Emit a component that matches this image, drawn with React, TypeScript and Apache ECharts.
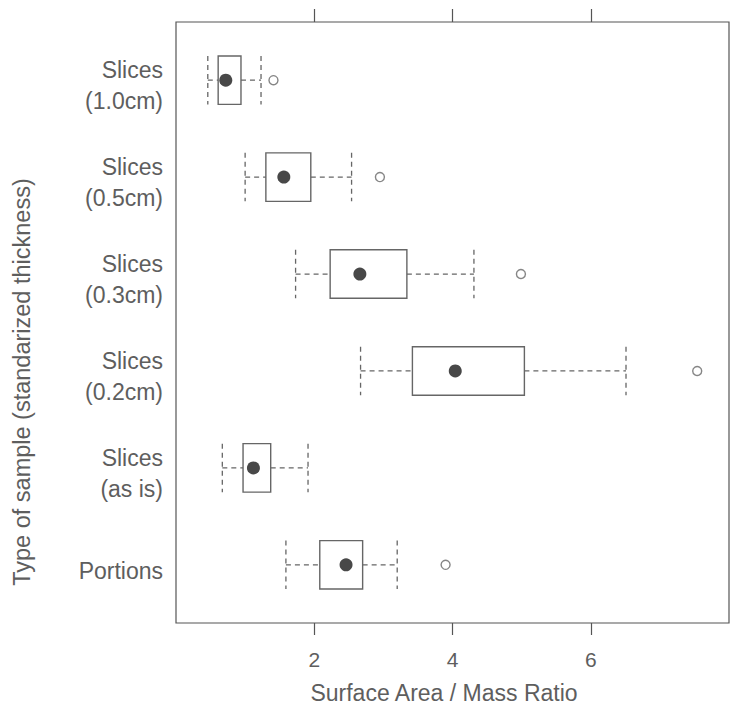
import React, { useEffect, useRef } from "react";
import * as echarts from "echarts";

const categories = ["Slices\n(1.0cm)", "Slices\n(0.5cm)", "Slices\n(0.3cm)", "Slices\n(0.2cm)", "Slices\n(as is)", "Portions"];
const lowWhisker = [0.46, 1.0, 1.73, 2.67, 0.67, 1.59];
const q1 = [0.61, 1.3, 2.23, 3.42, 0.97, 2.08];
const median = [0.72, 1.56, 2.66, 4.04, 1.12, 2.46];
const q3 = [0.94, 1.95, 3.34, 5.04, 1.37, 2.7];
const highWhisker = [1.23, 2.54, 4.31, 6.51, 1.91, 3.2];
const outlierGroup = [1, 2, 3, 4, 6];
const outlierValue = [1.41, 2.95, 4.99, 7.54, 3.9];
const xTicks = [2, 4, 6];
const xTitle = "Surface Area / Mass Ratio";
const yTitle = "Type of sample (standarized thickness)";

const FONT = "'Liberation Sans', Arial, Helvetica, sans-serif";
const TEXT = "#5e5e5e";
const LINE = "#666666";
const LABEL_SHIFT = 0.06;

export default function App() {
  const ref = useRef<HTMLDivElement>(null);
  useEffect(() => {
    if (!ref.current) return;
    const chart = echarts.init(ref.current, null, { renderer: "svg" });
    const boxData = categories.map((_, i) => [i + 1, lowWhisker[i], q1[i], median[i], q3[i], highWhisker[i]]);
    const outData = outlierGroup.map((g, i) => [outlierValue[i], g]);
    const option: any = {
      animation: false,
      backgroundColor: "#ffffff",
      grid: { left: 176, right: 1, top: 22, bottom: 87, show: true, borderColor: "#555", borderWidth: 1.2, backgroundColor: "transparent" },
      xAxis: [
        {
          type: "value", min: 0, max: 8, interval: 2, position: "bottom",
          axisLine: { show: false },
          splitLine: { show: false },
          axisTick: { show: true, length: 12, customValues: xTicks, lineStyle: { color: "#555", width: 1.2 } },
          axisLabel: { customValues: xTicks, fontSize: 21, color: TEXT, fontFamily: FONT, margin: 26 },
        },
        {
          type: "value", min: 0, max: 8, interval: 2, position: "top",
          axisLine: { show: false },
          splitLine: { show: false },
          axisTick: { show: true, length: 13, customValues: xTicks, lineStyle: { color: "#555", width: 1.2 } },
          axisLabel: { show: false },
        },
      ],
      yAxis: {
        type: "value", min: 0.4, max: 6.6, inverse: true,
        axisLine: { show: false }, splitLine: { show: false }, axisTick: { show: false },
        axisLabel: {
          customValues: categories.map((_, i) => i + 1 + LABEL_SHIFT),
          formatter: (v: number) => categories[Math.round(v) - 1] || "",
          fontSize: 23, lineHeight: 31, color: TEXT, fontFamily: FONT, align: "right", margin: 13,
        },
      },
      series: [
        {
          type: "custom",
          xAxisIndex: 0,
          data: boxData,
          encode: { x: [1, 2, 3, 4, 5], y: 0 },
          renderItem: (params: any, api: any) => {
            const g = api.value(0);
            const lo = api.coord([api.value(1), g]);
            const a = api.coord([api.value(2), g]);
            const m = api.coord([api.value(3), g]);
            const b = api.coord([api.value(4), g]);
            const hi = api.coord([api.value(5), g]);
            const h = api.size([0, 0.5])[1];
            const cy = m[1];
            const dashed = { stroke: "#666", lineWidth: 1.3, lineDash: [5, 4] };
            return {
              type: "group",
              children: [
                { type: "line", shape: { x1: lo[0], y1: cy, x2: a[0], y2: cy }, style: dashed },
                { type: "line", shape: { x1: b[0], y1: cy, x2: hi[0], y2: cy }, style: dashed },
                { type: "line", shape: { x1: lo[0], y1: cy - h / 2, x2: lo[0], y2: cy + h / 2 }, style: dashed },
                { type: "line", shape: { x1: hi[0], y1: cy - h / 2, x2: hi[0], y2: cy + h / 2 }, style: dashed },
                { type: "rect", shape: { x: a[0], y: cy - h / 2, width: b[0] - a[0], height: h }, style: { fill: "none", stroke: LINE, lineWidth: 1.4 } },
                { type: "circle", shape: { cx: m[0], cy, r: 6.5 }, style: { fill: "#484848" } },
              ],
            };
          },
        },
        {
          type: "scatter",
          xAxisIndex: 0,
          data: outData,
          symbol: "circle",
          symbolSize: 9,
          itemStyle: { color: "#ffffff", borderColor: LINE, borderWidth: 1.4 },
        },
      ],
      graphic: [
        { type: "text", x: 444, y: 693, style: { text: xTitle, fontSize: 23, fill: TEXT, fontFamily: FONT, align: "center", verticalAlign: "middle" } },
        { type: "text", x: 22, y: 382, rotation: Math.PI / 2, style: { text: yTitle, fontSize: 23.5, fill: TEXT, fontFamily: FONT, align: "center", verticalAlign: "middle" } },
      ],
    };
    chart.setOption(option);
    return () => chart.dispose();
  }, []);
  return <div ref={ref} style={{ position: "fixed", left: 0, top: 0, width: 730, height: 710 }} />;
}
